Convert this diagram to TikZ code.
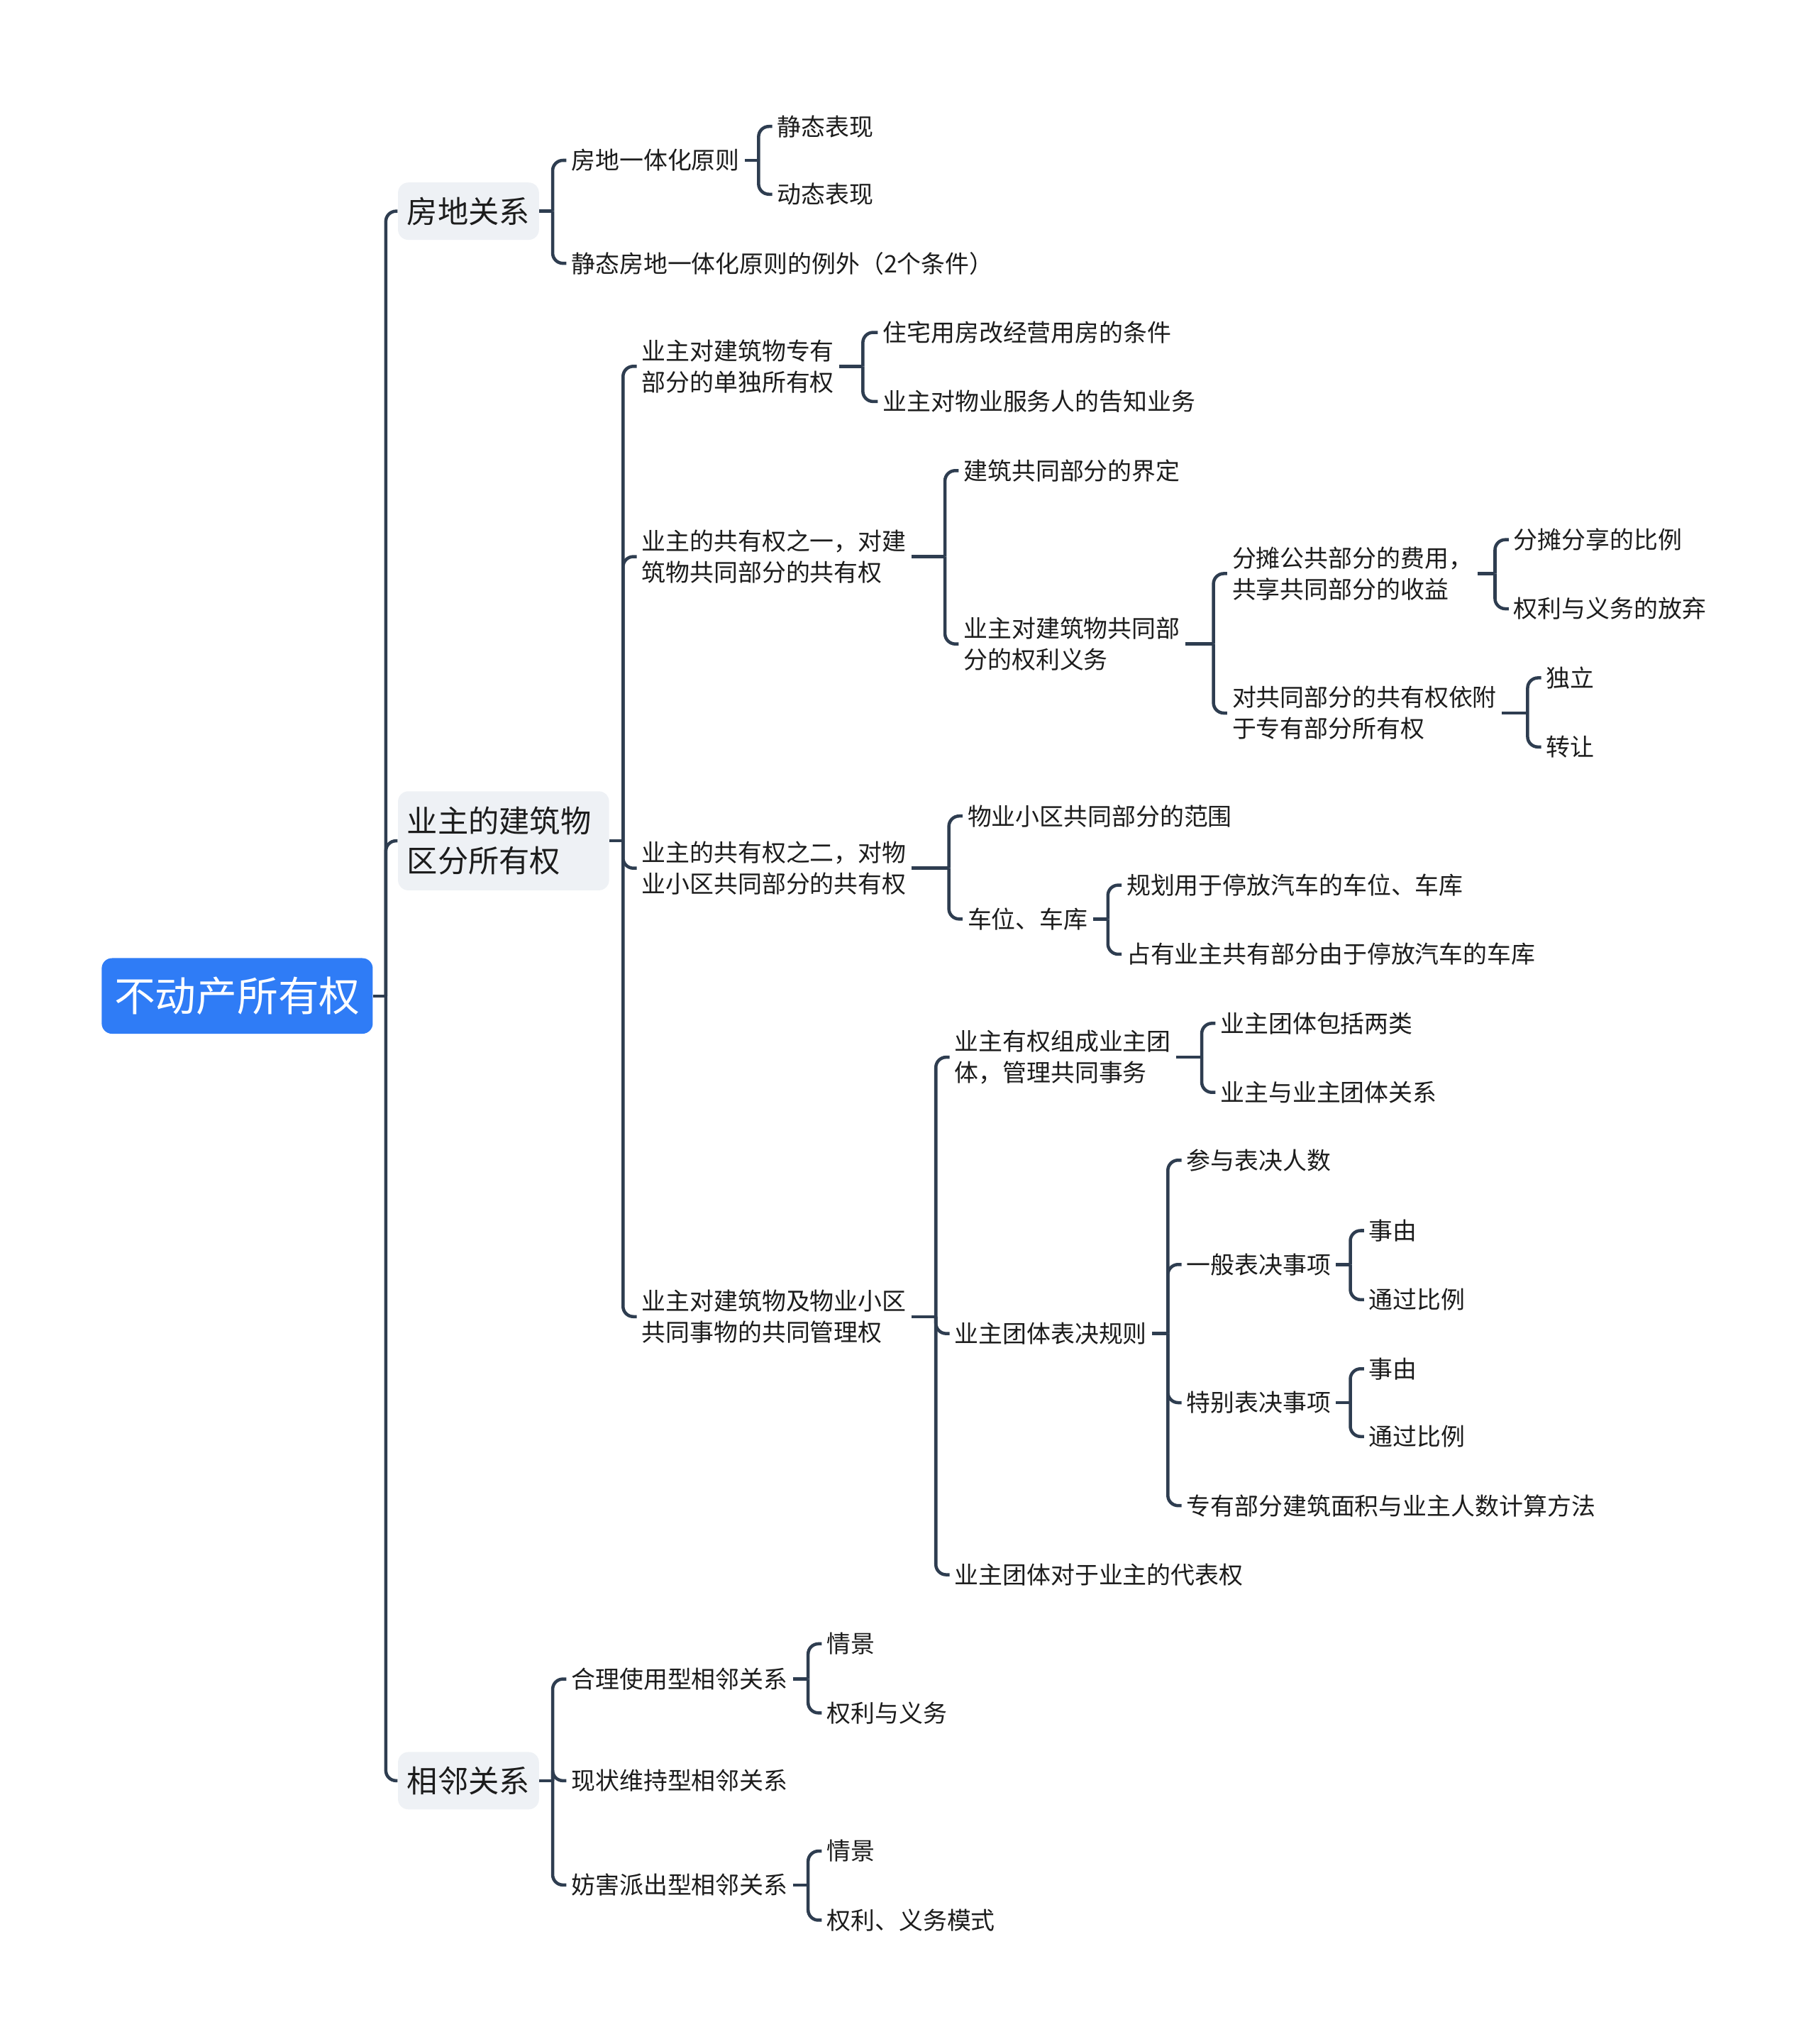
\documentclass[tikz,border=0pt]{standalone}
\usepackage{fontspec}
\setmainfont{Noto Sans CJK SC}
\usepackage{tikz}
\usetikzlibrary{positioning}

\definecolor{rootblue}{HTML}{2F7CF6}
\definecolor{topicgray}{HTML}{EEF1F5}
\definecolor{linkcol}{HTML}{2E3D50}
\definecolor{inkcol}{HTML}{1C1C1C}

\tikzset{
  root/.style={fill=rootblue,text=white,rounded corners=4.5pt,minimum width=4.16cm,
    minimum height=1.16cm,font=\fontsize{17.9pt}{22pt}\selectfont},
  topic/.style={fill=topicgray,text=inkcol,rounded corners=4.5pt,anchor=west,inner xsep=0.14cm,
    minimum height=0.88cm,align=left,font=\fontsize{13.4pt}{17.6pt}\selectfont},
  leaf/.style={anchor=west,text=inkcol,inner xsep=2pt,inner ysep=2pt,align=left,
    font=\fontsize{10.5pt}{13.6pt}\selectfont},
  link/.style={draw=linkcol,line width=1.4pt,rounded corners=4.5pt},
}

\begin{document}
\begin{tikzpicture}[x=0.02cm,y=-0.02cm]
  \useasboundingbox (0,0) rectangle (1393,1568);

  % root and main topics
  \node[root] (r) at (182,764) {不动产所有权};
  \node[topic] (fd) at (305,162) {房地关系};
  \node[topic,text width=2.96cm,minimum height=1.52cm] (qf) at (305,645) {业主的建筑物\\区分所有权};
  \node[topic] (xl) at (305,1366) {相邻关系};

  % 房地关系
  \node[leaf] (fd1) at (434.5,123) {房地一体化原则};
  \node[leaf] (fd1a) at (592.5,97) {静态表现};
  \node[leaf] (fd1b) at (592.5,149) {动态表现};
  \node[leaf] (fd2) at (434.5,202) {静态房地一体化原则的例外（2个条件）};

  % 业主的建筑物区分所有权
  \node[leaf] (qf1) at (488.5,281) {业主对建筑物专有\\部分的单独所有权};
  \node[leaf] (qf1a) at (673.5,255) {住宅用房改经营用房的条件};
  \node[leaf] (qf1b) at (673.5,308) {业主对物业服务人的告知业务};

  \node[leaf] (qf2) at (488.5,427) {业主的共有权之一，对建\\筑物共同部分的共有权};
  \node[leaf] (qf2a) at (735.5,361) {建筑共同部分的界定};
  \node[leaf] (qf2b) at (735.5,494) {业主对建筑物共同部\\分的权利义务};
  \node[leaf] (qf2b1) at (941.5,440) {分摊公共部分的费用，\\共享共同部分的收益};
  \node[leaf] (qf2b1a) at (1157.5,414) {分摊分享的比例};
  \node[leaf] (qf2b1b) at (1157.5,467) {权利与义务的放弃};
  \node[leaf] (qf2b2) at (941.5,547) {对共同部分的共有权依附\\于专有部分所有权};
  \node[leaf] (qf2b2a) at (1182.5,520) {独立};
  \node[leaf] (qf2b2b) at (1182.5,573) {转让};

  \node[leaf] (qf3) at (488.5,666) {业主的共有权之二，对物\\业小区共同部分的共有权};
  \node[leaf] (qf3a) at (738.5,626) {物业小区共同部分的范围};
  \node[leaf] (qf3b) at (738.5,705) {车位、车库};
  \node[leaf] (qf3b1) at (860.5,679) {规划用于停放汽车的车位、车库};
  \node[leaf] (qf3b2) at (860.5,732) {占有业主共有部分由于停放汽车的车库};

  \node[leaf] (qf4) at (488.5,1010) {业主对建筑物及物业小区\\共同事物的共同管理权};
  \node[leaf] (qf4a) at (728.5,811) {业主有权组成业主团\\体，管理共同事务};
  \node[leaf] (qf4a1) at (932.5,785) {业主团体包括两类};
  \node[leaf] (qf4a2) at (932.5,838) {业主与业主团体关系};
  \node[leaf] (qf4b) at (728.5,1023) {业主团体表决规则};
  \node[leaf] (qf4b1) at (906.5,890) {参与表决人数};
  \node[leaf] (qf4b2) at (906.5,970) {一般表决事项};
  \node[leaf] (qf4b2a) at (1046.5,944) {事由};
  \node[leaf] (qf4b2b) at (1046.5,997) {通过比例};
  \node[leaf] (qf4b3) at (906.5,1076) {特别表决事项};
  \node[leaf] (qf4b3a) at (1046.5,1050) {事由};
  \node[leaf] (qf4b3b) at (1046.5,1102) {通过比例};
  \node[leaf] (qf4b4) at (906.5,1155) {专有部分建筑面积与业主人数计算方法};
  \node[leaf] (qf4c) at (728.5,1208) {业主团体对于业主的代表权};

  % 相邻关系
  \node[leaf] (xl1) at (434.5,1288) {合理使用型相邻关系};
  \node[leaf] (xl1a) at (630.5,1261) {情景};
  \node[leaf] (xl1b) at (630.5,1314) {权利与义务};
  \node[leaf] (xl2) at (434.5,1366) {现状维持型相邻关系};
  \node[leaf] (xl3) at (434.5,1446) {妨害派出型相邻关系};
  \node[leaf] (xl3a) at (630.5,1420) {情景};
  \node[leaf] (xl3b) at (630.5,1473) {权利、义务模式};

  % junctions
  \coordinate (r-j) at (296,764);
  \coordinate (fd-j) at (424,162);
  \coordinate (fd1-j) at (582,123);
  \coordinate (qf-j) at (478,645);
  \coordinate (qf1-j) at (662,281);
  \coordinate (qf2-j) at (725,427);
  \coordinate (qf2b-j) at (931,494);
  \coordinate (qf2b1-j) at (1147,440);
  \coordinate (qf2b2-j) at (1172,547);
  \coordinate (qf3-j) at (728,666);
  \coordinate (qf3b-j) at (850,705);
  \coordinate (qf4-j) at (718,1010);
  \coordinate (qf4a-j) at (922,811);
  \coordinate (qf4b-j) at (896,1023);
  \coordinate (qf4b2-j) at (1036,970);
  \coordinate (qf4b3-j) at (1036,1076);
  \coordinate (xl-j) at (424,1366);
  \coordinate (xl1-j) at (620,1288);
  \coordinate (xl3-j) at (620,1446);

  % branches
  \foreach \p/\kids in {r/{fd,qf,xl}, fd/{fd1,fd2}, fd1/{fd1a,fd1b},
      qf/{qf1,qf2,qf3,qf4}, qf1/{qf1a,qf1b}, qf2/{qf2a,qf2b}, qf2b/{qf2b1,qf2b2},
      qf2b1/{qf2b1a,qf2b1b}, qf2b2/{qf2b2a,qf2b2b}, qf3/{qf3a,qf3b}, qf3b/{qf3b1,qf3b2},
      qf4/{qf4a,qf4b,qf4c}, qf4a/{qf4a1,qf4a2}, qf4b/{qf4b1,qf4b2,qf4b3,qf4b4},
      qf4b2/{qf4b2a,qf4b2b}, qf4b3/{qf4b3a,qf4b3b},
      xl/{xl1,xl2,xl3}, xl1/{xl1a,xl1b}, xl3/{xl3a,xl3b}} {
    \draw[link] (\p) -- (\p-j);
    \foreach \c in \kids
      \draw[link] (\p-j) |- (\c.west);
  }
\end{tikzpicture}
\end{document}
